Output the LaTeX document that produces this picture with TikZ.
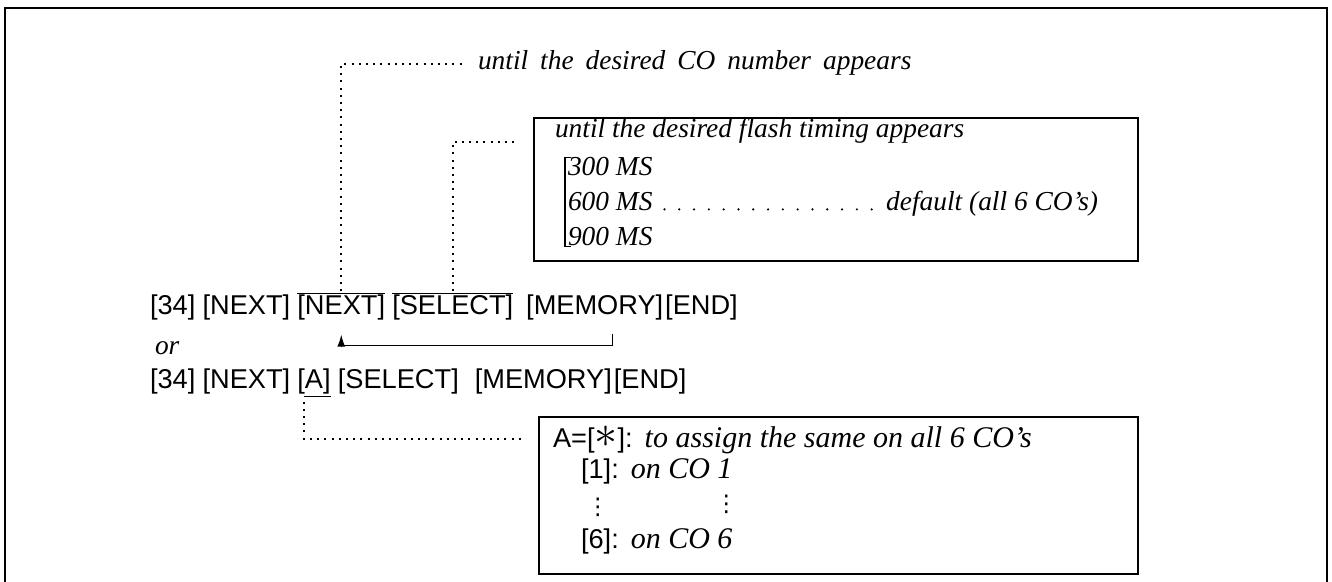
\documentclass[tikz,border=0pt]{standalone}
\usepackage{fontspec}
\setmainfont{Liberation Serif}
\setsansfont{Liberation Sans}
\newfontfamily\symfont{DejaVu Sans}
\usetikzlibrary{positioning, arrows.meta, calc}
\newcommand\keyfont{\sffamily\fontsize{13.6}{15}\selectfont}
\newcommand\notefont{\itshape\fontsize{13.7}{17.5}\selectfont}
\newcommand\choicefont{\itshape\fontsize{15}{18}\selectfont}
\tikzset{
  key/.style={font=\keyfont, inner sep=0pt, outer sep=0pt},
  note/.style={font=\notefont, inner sep=0pt, outer sep=0pt},
  choice/.style={font=\choicefont, inner sep=0pt, outer sep=0pt},
  skipdots/.style={font=\symfont\fontsize{11.5}{11.5}\selectfont, inner sep=0pt},
  notebox/.style={draw, line width=0.8pt, inner sep=0pt},
  guide/.style={draw, line width=0.9pt, dash pattern=on 1pt off 2.6pt},
  leader/.style={draw, line width=1.2pt, line cap=round, dash pattern=on 0pt off 7.4pt},
  loopback/.style={draw, line width=0.7pt, -{Latex[length=6pt,width=4pt]}},
  overbar/.style={draw, line width=0.7pt},
  bracket/.style={draw, line width=0.6pt},
  frame/.style={draw, line width=1.3pt},
}
\begin{document}
\begin{tikzpicture}[x=0.5pt, y=-0.5pt]
  \useasboundingbox (0,0) rectangle (1332,582);
  \draw[frame] (5,582) |- (1327,8) -- (1327,582);

  % first key sequence
  \node[key, anchor=base west] (k1) at (150,315) {[34]};
  \node[key, base right=3.6pt of k1] (k2) {[NEXT]};
  \node[key, base right=3.6pt of k2] (k3) {[NEXT]};
  \node[key, base right=3.6pt of k3] (k4) {[SELECT]};
  \node[key, base right=6.5pt of k4] (k5) {[MEMORY]};
  \node[key, base right=1pt of k5] (k6) {[END]};
  \draw[overbar] ([yshift=1pt]k3.north west) -- ([yshift=1pt]k3.north east);
  \draw[overbar] ([yshift=1pt]k4.north west) -- ([yshift=1pt]k4.north east);

  % repeat note
  \node[note, anchor=base west] (conote) at (478,70)
    {\spaceskip=6pt\relax until the desired CO number appears};
  \draw[guide] ([yshift=2pt]k3.north) |- ([xshift=-6pt,yshift=3pt]conote.base west);

  % flash timing box
  \node[notebox, anchor=north west, minimum width=302pt, minimum height=71.5pt] (flashbox) at (533,117) {};
  \node[note, anchor=base west] (flashtitle) at (555,138) {until the desired flash timing appears};
  \node[note, anchor=base west] (ms300) at (568,176) {300 MS};
  \node[note, anchor=base west] (ms600) at (568,211) {600 MS};
  \node[note, anchor=base west] (ms900) at (568,246) {900 MS};
  \node[note, anchor=base east] (deflt) at (1098,211) {default (all 6 CO's)};
  \draw[leader] ([xshift=6pt,yshift=0.8pt]ms600.base east) -- ([xshift=-2pt,yshift=0.8pt]deflt.base west);
  \draw[bracket] ([xshift=1.5pt]ms300.north west) -| ([xshift=-1.5pt]ms900.south west)
    -- ([xshift=1.5pt]ms900.south west);
  \draw[guide] ([yshift=2pt]k4.north) |- ([xshift=-8pt,yshift=-2pt]flashbox.west |- flashtitle.base);

  % back to the next CO
  \draw[loopback] ([xshift=9pt,yshift=-6.5pt]k5.south) -- ++(0,-6pt) -| ([yshift=-7pt]k3.south);

  \node[note, anchor=base west] (orword) at (155,355) {or};

  % second key sequence
  \node[key, anchor=base west] (m1) at (150,388) {[34]};
  \node[key, base right=3.6pt of m1] (m2) {[NEXT]};
  \node[key, base right=3.6pt of m2] (m3) {[A]};
  \node[key, base right=3.6pt of m3] (m4) {[SELECT]};
  \node[key, base right=8pt of m4] (m5) {[MEMORY]};
  \node[key, base right=1pt of m5] (m6) {[END]};
  \draw[overbar] ([xshift=3.4pt,yshift=-1.5pt]m3.south west) -- ([yshift=-1.5pt]m3.south east);

  % CO choice box
  \node[notebox, anchor=north west, minimum width=299.5pt, minimum height=78.5pt] (assignbox) at (538,416) {};
  \node[key, anchor=base west] (aeq) at (553,447) {A=[\scalebox{1.6}{$\ast$}]:};
  \node[choice, base right=6pt of aeq] (aall) {to assign the same on all 6 CO's};
  \node[key, anchor=base west] (one) at (581,478) {[1]:};
  \node[choice, base right=6pt of one] (co1) {on CO 1};
  \node[key, anchor=base west] (six) at (581,548) {[6]:};
  \node[choice, base right=6pt of six] (co6) {on CO 6};
  \node[skipdots] (vdl) at ($(one.center)!0.5!(six.center)+(-1pt,-0.5pt)$) {⋮};
  \node[skipdots] (vdr) at ($(co1.east)!0.5!(co6.east)+(-3pt,-0.5pt)$) {⋮};
  \draw[guide] ([xshift=3.4pt,yshift=-4pt]m3.south west) |- ([xshift=-8pt,yshift=4pt]assignbox.west |- aeq.base);
\end{tikzpicture}
\end{document}
